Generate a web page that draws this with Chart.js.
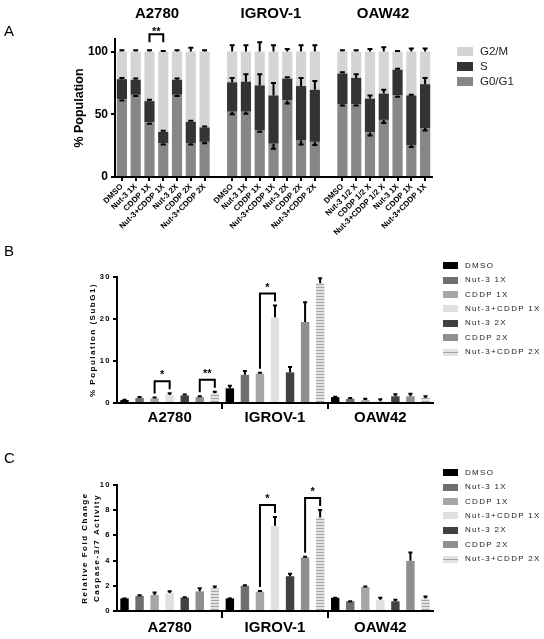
<!DOCTYPE html>
<html><head><meta charset="utf-8">
<script src="https://cdn.jsdelivr.net/npm/chart.js@4.4.1/dist/chart.umd.min.js"></script>
<style>
html,body{margin:0;padding:0;background:#fff;width:544px;height:639px;overflow:hidden;font-family:Arial,"Liberation Sans",Helvetica,sans-serif;}
#wrap{position:relative;width:544px;height:639px;}
canvas{position:absolute;left:0;}
.t{position:absolute;color:#000;white-space:nowrap;line-height:1;}
</style></head><body>
<div id="wrap">
<canvas id="cA" width="544" height="250" style="top:0px;width:544px;height:250px"></canvas>
<canvas id="cB" width="544" height="190" style="top:250px;width:544px;height:190px"></canvas>
<canvas id="cC" width="544" height="184" style="top:455px;width:544px;height:184px"></canvas>
<div class="t" style="left:4px;top:23px;font-size:15px">A</div>
<div class="t" style="left:4px;top:243px;font-size:15px">B</div>
<div class="t" style="left:4px;top:450px;font-size:15px">C</div>
<div id="titlesA"></div>
<div id="legA"></div><div id="legB"></div><div id="legC"></div>
</div>
<script>
// ---------- DATA ----------
const cellLines = ['A2780', 'IGROV-1', 'OAW42'];
const catsA2780 = ['DMSO','Nut-3 1X','CDDP 1X','Nut-3+CDDP 1X','Nut-3 2X','CDDP 2X','Nut-3+CDDP 2X'];
const catsIGROV = ['DMSO','Nut-3 1X','CDDP 1X','Nut-3+CDDP 1X','Nut-3 2X','CDDP 2X','Nut-3+CDDP 2X'];
const catsOAW   = ['DMSO','Nut-3 1/2 X','CDDP 1/2 X','Nut-3+CDDP 1/2 X','Nut-3 1X','CDDP 1X','Nut-3+CDDP 1X'];
const phases = ['G0/G1', 'S', 'G2/M'];

// Panel A: cell cycle (% population)
const g1A2780  = [62, 65.5, 43.5, 27, 65.5, 27, 28];
const sA2780   = [16, 12, 17, 9, 12, 17, 11.5];
const g2mA2780 = [22, 22.5, 39.5, 64, 22.5, 56, 60.5];
const g1IGROV  = [52, 52, 37, 26.5, 61, 29, 28];
const sIGROV   = [23.5, 24, 36, 38.5, 17.5, 43.5, 41.5];
const g2mIGROV = [24.5, 24, 27, 35, 21.5, 27.5, 30.5];
const g1OAW    = [58, 58, 35.5, 45.5, 65, 25.5, 39];
const sOAW     = [24.5, 21, 27, 21, 20.5, 39.5, 35];
const g2mOAW   = [17.5, 21, 37.5, 33.5, 14.5, 35, 26];
const eG1A2780  = [1, 1, 1, 1, 1, 1, 1];
const eSA2780   = [1, 1, 1, 0.8, 1, 0.8, 0.8];
const eG2mA2780 = [1, 1, 1, 0.5, 1, 3, 1];
const eG1IGROV  = [2, 1.5, 1, 4, 2.5, 3, 2.5];
const eSIGROV   = [3.5, 6, 9, 10, 1, 6.5, 7];
const eG2mIGROV = [5, 5, 7.5, 5, 2, 5, 5];
const eG1OAW    = [1, 1, 2.5, 2.5, 1, 1.5, 2];
const eSOAW     = [1, 3, 2.5, 3, 0.8, 0.5, 5];
const eG2mOAW   = [1, 1, 2, 3.5, 0.5, 2.5, 2.5];
const sigA = [[2, 2, 2, 3, '**']];

// Panels B & C: treatments
const treatments = ['DMSO','Nut-3 1X','CDDP 1X','Nut-3+CDDP 1X','Nut-3 2X','CDDP 2X','Nut-3+CDDP 2X'];
// Panel B: % population SubG1
const subG1A2780 = [0.7, 1.2, 1.1, 1.9, 1.8, 1.4, 2.3];
const subG1IGROV = [3.5, 6.7, 7.0, 20.4, 7.3, 19.3, 28.5];
const subG1OAW   = [1.4, 1.0, 0.7, 0.4, 1.6, 1.6, 1.2];
const eSubA2780  = [0.1, 0.2, 0.2, 0.4, 0.2, 0.2, 0.4];
const eSubIGROV  = [0.6, 0.9, 0.2, 2.8, 1.3, 4.7, 1.2];
const eSubOAW    = [0.1, 0.2, 0.3, 0.5, 0.5, 0.6, 0.4];
const sigB = [[2, 0, 3, 0, '*'], [5, 0, 6, 0, '**'], [2, 1, 3, 1, '*']];
// Panel C: caspase-3/7 relative fold change
const caspA2780 = [1.0, 1.2, 1.27, 1.43, 1.07, 1.56, 1.8];
const caspIGROV = [1.0, 2.0, 1.53, 6.76, 2.76, 4.25, 7.43];
const caspOAW   = [1.05, 0.77, 1.9, 0.9, 0.77, 3.98, 1.0];
const eCaspA2780 = [0, 0.05, 0.2, 0.13, 0.03, 0.25, 0.15];
const eCaspIGROV = [0, 0.05, 0.05, 0.7, 0.2, 0.05, 0.58];
const eCaspOAW   = [0, 0, 0.05, 0.16, 0.13, 0.67, 0.16];
const sigC = [[2, 1, 3, 1, '*'], [5, 1, 6, 1, '*']];

// ---------- STYLE / HELPERS ----------
const FONT = 'Arial, "Liberation Sans", Helvetica, sans-serif';
Chart.defaults.font.family = FONT;
Chart.defaults.color = '#000';

function stripePattern(){
  const c = document.createElement('canvas'); c.width = 8; c.height = 3;
  const x = c.getContext('2d');
  x.fillStyle = '#e2e2e2'; x.fillRect(0,0,8,3);
  x.fillStyle = '#a6a6a6'; x.fillRect(0,1,8,1);
  return x.createPattern(c, 'repeat');
}
const phaseColors = ['#878787', '#333333', '#d4d4d4'];
const treatColors = ['#000000', '#6f6f6f', '#a6a6a6', '#e0e0e0', '#414141', '#8f8f8f', stripePattern()];
const treatLegendCss = ['#000000', '#6f6f6f', '#a6a6a6', '#e0e0e0', '#414141', '#8f8f8f',
  'linear-gradient(#e2e2e2 0,#e2e2e2 3px,#a6a6a6 3px,#a6a6a6 4px,#e2e2e2 4px)'];

const errPlugin = {
  id: 'errbars',
  afterDatasetsDraw(chart){
    const ctx = chart.ctx, ys = chart.scales.y;
    const ppu = Math.abs(ys.getPixelForValue(1) - ys.getPixelForValue(0));
    chart.data.datasets.forEach((ds, di) => {
      if (!ds.errors) return;
      const meta = chart.getDatasetMeta(di);
      const dir = ds.errDir || 1, cap = ds.errCap || 2;
      ctx.save(); ctx.strokeStyle = '#000'; ctx.lineWidth = 2;
      meta.data.forEach((el, i) => {
        const e = ds.errors[i];
        if (e == null || ds.data[i] == null) return;
        const x = el.x, y0 = el.y, y1 = el.y - dir * e * ppu;
        ctx.beginPath();
        ctx.moveTo(x, y0); ctx.lineTo(x, y1);
        ctx.moveTo(x - cap, y1); ctx.lineTo(x + cap, y1);
        ctx.stroke();
      });
      ctx.restore();
    });
  }
};

const sigPlugin = {
  id: 'sig',
  afterDatasetsDraw(chart, args, o){
    const ctx = chart.ctx, ys = chart.scales.y;
    const ppu = Math.abs(ys.getPixelForValue(1) - ys.getPixelForValue(0));
    const tip = (d, i) => {
      const ds = chart.data.datasets[d];
      const el = chart.getDatasetMeta(d).data[i];
      const e = ds.errors ? (ds.errors[i] || 0) : 0;
      return {x: el.x, y: el.y - e * ppu};
    };
    (o.pairs || []).forEach(p => {
      const a = tip(p[0], p[1]), b = tip(p[2], p[3]);
      const top = Math.min(a.y, b.y) - o.gap;
      const la = Math.min(a.y - o.legGap, top + o.legMax);
      const lb = Math.min(b.y - o.legGap, top + o.legMax);
      ctx.save();
      ctx.strokeStyle = '#000'; ctx.lineWidth = 2; ctx.lineJoin = 'miter';
      ctx.beginPath();
      ctx.moveTo(a.x, la); ctx.lineTo(a.x, top); ctx.lineTo(b.x, top); ctx.lineTo(b.x, lb);
      ctx.stroke();
      ctx.fillStyle = '#000';
      ctx.font = 'bold ' + o.size + 'px ' + FONT;
      ctx.textAlign = 'center'; ctx.textBaseline = 'alphabetic';
      ctx.fillText(p[4], (a.x + b.x) / 2, top + o.baseOff);
      ctx.restore();
    });
  }
};

const spacedY = {
  id: 'spacedY',
  beforeDraw(chart, args, o){
    const s = chart.scales.y;
    if (s.__sp) return; s.__sp = true;
    ['drawLabels', 'drawTitle'].forEach(fn => {
      const orig = s[fn];
      s[fn] = function(...a){ const c = this.ctx; c.save(); c.letterSpacing = o.spacing; orig.apply(this, a); c.restore(); };
    });
  }
};

function legend(id, labels, colors, o){
  const host = document.getElementById(id);
  labels.forEach((lab, k) => {
    const cy = o.top + k * o.step;
    const b = document.createElement('div');
    b.style.cssText = `position:absolute;left:${o.boxX}px;top:${cy - o.boxH/2}px;width:${o.boxW}px;height:${o.boxH}px;background:${colors[k]}`;
    host.appendChild(b);
    const t = document.createElement('div');
    t.className = 't';
    t.textContent = lab;
    t.style.cssText += `left:${o.textX}px;top:${cy - o.lh/2}px;font-size:${o.size}px;line-height:${o.lh}px;letter-spacing:${o.ls};color:${o.color}`;
    host.appendChild(t);
  });
}

// ---------- PANEL A ----------
const join3 = (a, b, c) => [...a, null, ...b, null, ...c];
const labelsA = [...catsA2780, '', ...catsIGROV, '', ...catsOAW];
const axisA = {color: '#000', width: 2};
new Chart(document.getElementById('cA'), {
  type: 'bar',
  data: {
    labels: labelsA,
    datasets: [
      {label: phases[0], data: join3(g1A2780, g1IGROV, g1OAW), errors: join3(eG1A2780, eG1IGROV, eG1OAW), errDir: -1, errCap: 2.5, backgroundColor: phaseColors[0]},
      {label: phases[1], data: join3(sA2780, sIGROV, sOAW), errors: join3(eSA2780, eSIGROV, eSOAW), errDir: 1, errCap: 2.5, backgroundColor: phaseColors[1]},
      {label: phases[2], data: join3(g2mA2780, g2mIGROV, g2mOAW), errors: join3(eG2mA2780, eG2mIGROV, eG2mOAW), errDir: 1, errCap: 2.5, backgroundColor: phaseColors[2]}
    ]
  },
  options: {
    responsive: false, animation: false,
    layout: {padding: {left: 70, right: 112, top: 39, bottom: 0}},
    datasets: {bar: {categoryPercentage: 1, barPercentage: 0.74}},
    plugins: {
      legend: {display: false}, tooltip: {enabled: false},
      sig: {pairs: sigA, gap: 16, legGap: 4, legMax: 8, size: 11, baseOff: 1}
    },
    scales: {
      x: {
        stacked: true,
        grid: {offset: false, drawOnChartArea: false, tickLength: 4, lineWidth: 2,
          color: ctx => (labelsA[ctx.index] === '' ? 'rgba(0,0,0,0)' : '#000')},
        border: axisA,
        ticks: {minRotation: 45, maxRotation: 45, autoSkip: false, padding: 1, color: '#000', font: {size: 8, weight: 'bold'}},
        afterFit: s => { s.height = 73; }
      },
      y: {
        stacked: true, min: 0, max: 110,
        afterBuildTicks: s => { s.ticks = [0, 50, 100].map(v => ({value: v})); },
        grid: {drawOnChartArea: false, tickLength: 4, lineWidth: 2, color: '#000'},
        border: axisA,
        ticks: {padding: 3, color: '#000', font: {size: 12, weight: 'bold'}},
        title: {display: true, text: '% Population', color: '#000', font: {size: 12.5, weight: 'bold'}, padding: {top: 2.5, bottom: 0}},
        afterFit: s => { s.width = 45; }
      }
    }
  },
  plugins: [errPlugin, sigPlugin]
});

// titles for panel A
(function(){
  const host = document.getElementById('titlesA');
  const centers = [157, 271, 383];
  cellLines.forEach((c, i) => {
    const d = document.createElement('div');
    d.className = 't'; d.textContent = c;
    d.style.cssText += `left:${centers[i]}px;top:5px;font-size:15px;font-weight:bold;transform:translateX(-50%)`;
    host.appendChild(d);
  });
})();
legend('legA', [phases[2], phases[1], phases[0]], [phaseColors[2], phaseColors[1], phaseColors[0]],
  {top: 51, step: 15, boxX: 457, boxW: 16, boxH: 9, textX: 480, size: 11.5, lh: 12, ls: '0px', color: '#222'});

// ---------- PANELS B & C ----------
function groupedChart(id, series, errs, yOpts, sig, xOpts){
  const axis = {color: '#000', width: 2};
  return new Chart(document.getElementById(id), {
    type: 'bar',
    data: {
      labels: cellLines,
      datasets: treatments.map((t, i) => ({
        label: t,
        data: series.map(s => s[i]),
        errors: errs.map(e => e[i]),
        errDir: 1, errCap: 2,
        backgroundColor: treatColors[i]
      }))
    },
    options: {
      responsive: false, animation: false,
      layout: {padding: {left: yOpts.padLeft, right: 111, top: yOpts.padTop, bottom: 0}},
      datasets: {bar: {categoryPercentage: 1, barPercentage: 0.56}},
      plugins: {
        legend: {display: false}, tooltip: {enabled: false},
        sig: {pairs: sig, gap: 12, legGap: 4, legMax: 1000, size: 11, baseOff: -3},
        spacedY: {spacing: '1.5px'}
      },
      scales: {
        x: {
          grid: {offset: true, drawOnChartArea: false, tickLength: xOpts.tickLength, lineWidth: 2,
            color: ctx => ((ctx.index === 1 || ctx.index === 2) ? '#000' : 'rgba(0,0,0,0)')},
          border: axis,
          ticks: {padding: xOpts.padding, color: '#000', font: {size: 15, weight: 'bold'}},
          afterFit: s => { s.height = xOpts.height; }
        },
        y: {
          min: 0, max: yOpts.max,
          grid: {drawOnChartArea: false, tickLength: 4, lineWidth: 2, color: '#000'},
          border: axis,
          ticks: {stepSize: yOpts.step, padding: 2, color: '#000', font: {size: 7.5, weight: 'bold'}},
          title: {display: true, text: yOpts.title, color: '#000', font: {size: 8, weight: 'bold', lineHeight: yOpts.lh}, padding: {top: yOpts.tpad, bottom: 0}},
          afterFit: s => { s.width = yOpts.width; }
        }
      }
    },
    plugins: [errPlugin, sigPlugin, spacedY]
  });
}

groupedChart('cB', [subG1A2780, subG1IGROV, subG1OAW], [eSubA2780, eSubIGROV, eSubOAW],
  {padLeft: 86, width: 31, padTop: 27, max: 30, step: 10, title: '% Population (SubG1)', lh: 1.2, tpad: 2.2},
  sigB, {tickLength: 6, padding: 0, height: 37});
groupedChart('cC', [caspA2780, caspIGROV, caspOAW], [eCaspA2780, eCaspIGROV, eCaspOAW],
  {padLeft: 77, width: 40, padTop: 30, max: 10, step: 2, title: ['Relative Fold Change', 'Caspase-3/7 Activity'], lh: 1.5, tpad: 2},
  sigC, {tickLength: 7, padding: 1, height: 28});

legend('legB', treatments, treatLegendCss,
  {top: 265.7, step: 14.4, boxX: 443, boxW: 15, boxH: 7, textX: 465, size: 8, lh: 10, ls: '1.3px', color: '#222'});
legend('legC', treatments, treatLegendCss,
  {top: 472.7, step: 14.4, boxX: 443, boxW: 15, boxH: 7, textX: 465, size: 8, lh: 10, ls: '1.3px', color: '#222'});
</script>
</body></html>
